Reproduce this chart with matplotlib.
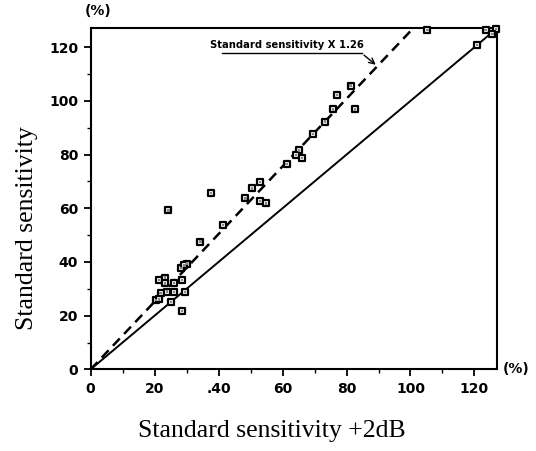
import matplotlib
matplotlib.use("Agg")
import matplotlib.pyplot as plt
import numpy as np
from matplotlib.ticker import MultipleLocator

# Data
x_vals = [73.3, 69.6, 65.1, 64.2, 66.1, 61.3, 52.9, 50.4, 48.4, 52.9, 54.8, 37.6,
          24.3, 41.3, 34.3, 30.2, 28.4, 29.3, 21.3, 23.3, 23.3, 26.1, 28.6, 21.9,
          23.8, 26.1, 29.5, 20.4, 21.3, 25.1, 28.6, 81.3, 77.1, 75.8, 82.7, 105.3,
          120.8, 123.5, 126.8, 125.6]
y_vals = [92.3, 87.7, 81.6, 79.9, 78.7, 76.4, 69.9, 67.4, 63.7, 62.7, 61.8, 65.8,
          59.2, 53.8, 47.6, 39.4, 37.8, 38.7, 33.2, 34.2, 32.0, 32.2, 33.2, 28.5,
          29.0, 28.8, 28.8, 25.8, 26.1, 25.1, 21.7, 105.7, 102.2, 96.8, 96.8, 126.5,
          120.9, 126.5, 126.8, 124.9]
ratio = 1.26
axis_max = 127
x_ticks = [0, 20, 40, 60, 80, 100, 120]
x_tick_labels = ["0", "20", ".40", "60", "80", "100", "120"]
y_ticks = [0, 20, 40, 60, 80, 100, 120]
annot_text = "Standard sensitivity X 1.26"

fig = plt.figure(figsize=(5.36, 4.51), dpi=100)
ax = fig.add_axes([0.169, 0.181, 0.758, 0.756])
ax.set_xlim(0, axis_max)
ax.set_ylim(0, axis_max)

# identity line
line_x = np.array([0, axis_max])
ax.plot(line_x, line_x, color="black", lw=1.4, zorder=2)
# 1.26x dashed line
dx = np.array([0, axis_max / ratio])
ax.plot(dx, dx * ratio, color="black", lw=1.8, ls=(0, (4, 2.5)), zorder=2)

ax.scatter(x_vals, y_vals, marker="s", s=22, facecolor="white",
           edgecolor="black", linewidths=1.6, zorder=3, clip_on=False)
ax.scatter(x_vals, y_vals, marker="s", s=3, facecolor="#888888",
           edgecolor="none", zorder=4, clip_on=False)

# annotation
ax.text(61.5, 121.0, annot_text, ha="center", va="center", fontsize=7.2,
        fontweight="bold", family="DejaVu Sans")
ax.plot([41.0, 84.8], [117.7, 117.7], color="black", lw=1.0)
ax.annotate("", xy=(89.8, 112.8), xytext=(84.8, 117.7),
            arrowprops=dict(arrowstyle="->", lw=1.0, color="black"))

for s in ax.spines.values():
    s.set_linewidth(1.5)

ax.set_xticks(x_ticks)
ax.set_xticklabels(x_tick_labels)
ax.set_yticks(y_ticks)
ax.xaxis.set_minor_locator(MultipleLocator(10))
ax.yaxis.set_minor_locator(MultipleLocator(10))
ax.tick_params(which="major", length=5, width=1.3, direction="out", pad=4)
ax.tick_params(which="minor", length=3, width=1.0, direction="out")
for lab in ax.get_xticklabels() + ax.get_yticklabels():
    lab.set_fontsize(10)
    lab.set_fontweight("bold")
    lab.set_family("DejaVu Sans")

ax.text(-0.015, 1.03, "(%)", transform=ax.transAxes, ha="left", va="bottom",
        fontsize=10, fontweight="bold", family="DejaVu Sans")
ax.text(1.015, 0.0, "(%)", transform=ax.transAxes, ha="left", va="center",
        fontsize=10, fontweight="bold", family="DejaVu Sans")

fig.text(0.507, 0.044, "Standard sensitivity +2dB", family="Liberation Serif",
         fontsize=18.5, ha="center", va="center")
fig.text(0.050, 0.494, "Standard sensitivity", family="Liberation Serif",
         fontsize=18.5, ha="center", va="center", rotation=90)

fig.savefig("out.png", dpi=100)
